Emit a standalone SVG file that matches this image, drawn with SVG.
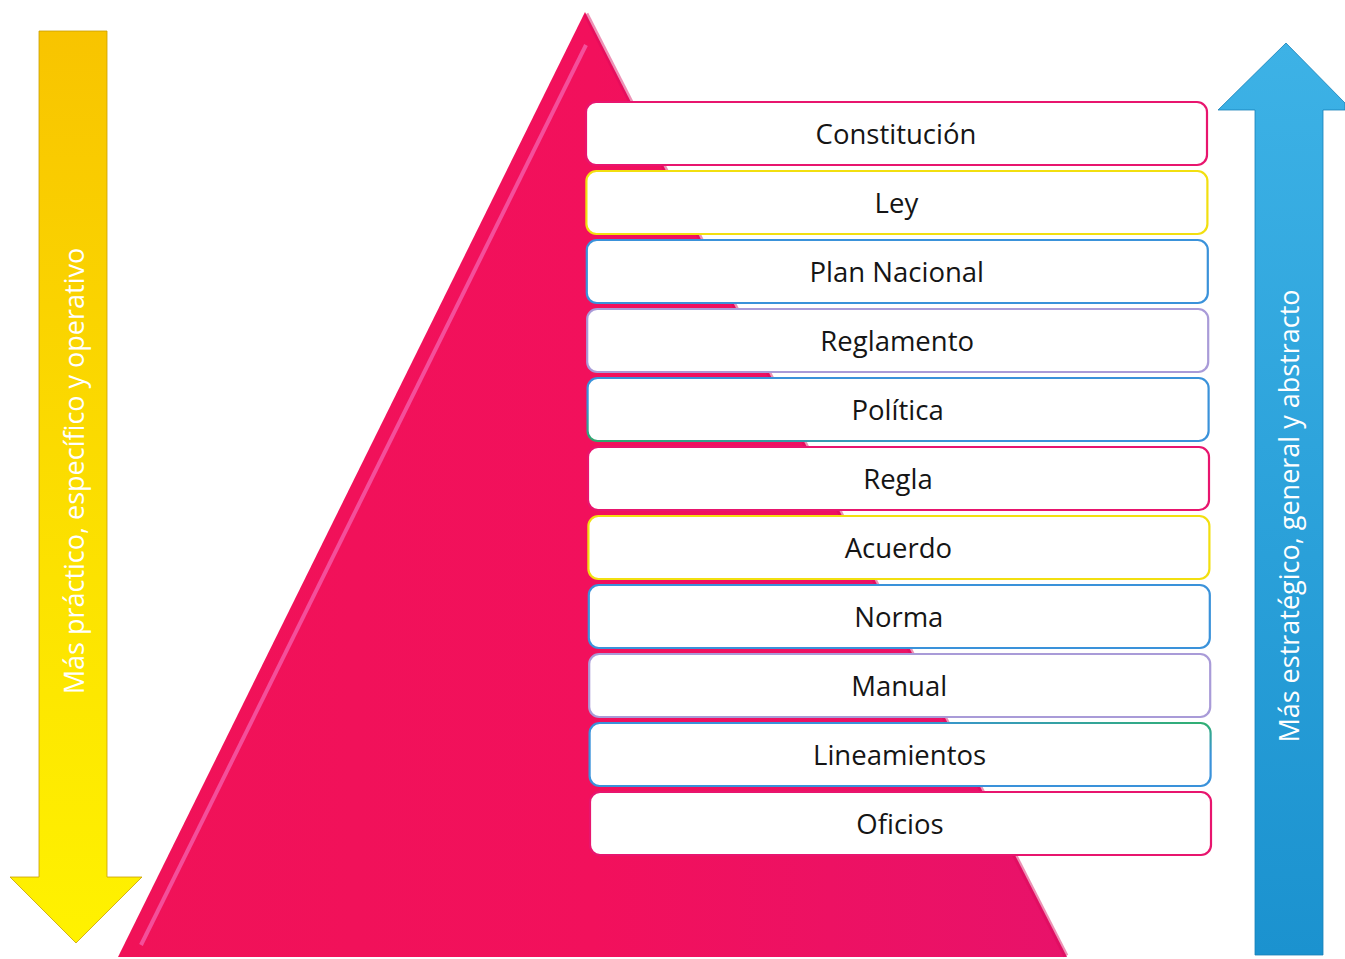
<svg xmlns="http://www.w3.org/2000/svg" width="1345" height="959" viewBox="0 0 1345 959">
<defs>
<style>
.box{fill:#ffffff;stroke-width:2.2}
.lbl{font-family:"Open Sans","Noto Sans",sans-serif;font-size:27.5px;fill:#151515;text-anchor:middle}
.side{font-family:"Open Sans","Noto Sans",sans-serif;font-size:27px;fill:#ffffff;text-anchor:middle}
</style>
<linearGradient id="gYel" x1="0" y1="0" x2="0" y2="1">
<stop offset="0" stop-color="#F8C400"/>
<stop offset="0.6" stop-color="#FCE200"/>
<stop offset="1" stop-color="#FFF200"/>
</linearGradient>
<linearGradient id="gBlue" x1="0" y1="0" x2="0" y2="1">
<stop offset="0" stop-color="#3DB2E6"/>
<stop offset="1" stop-color="#1B92CF"/>
</linearGradient>
<linearGradient id="gPink" x1="0" y1="0" x2="1" y2="0">
<stop offset="0" stop-color="#F01258"/>
<stop offset="0.5" stop-color="#F2105C"/>
<stop offset="1" stop-color="#E8126A"/>
</linearGradient>
<linearGradient id="gBG" x1="0" y1="1" x2="1" y2="0">
<stop offset="0" stop-color="#2FA86A"/>
<stop offset="0.3" stop-color="#3A92DA"/>
<stop offset="1" stop-color="#3A92DA"/>
</linearGradient>
<linearGradient id="gBG2" x1="0" y1="1" x2="1" y2="0">
<stop offset="0" stop-color="#3A92DA"/>
<stop offset="0.75" stop-color="#3A92DA"/>
<stop offset="1" stop-color="#30B070"/>
</linearGradient>
</defs>

<g id="arrow-left">
<polygon points="39,31 107,31 107,877 142,877 76,943 10,877 39,877" fill="url(#gYel)" stroke="#C9A000" stroke-width="0.8"/>
<text class="side" transform="translate(84,471) rotate(-90)">Más práctico, específico y operativo</text>
</g>

<g id="arrow-right">
<polygon points="1286,43 1345,103 1345,110 1323,110 1323,955 1255,955 1255,110 1218,110" fill="url(#gBlue)" stroke="#1780B8" stroke-width="0.8"/>
<text class="side" transform="translate(1299,516) rotate(-90)">Más estratégico, general y abstracto</text>
</g>

<g id="pyramid">
<polygon points="585,12 1067,957 118,957" fill="url(#gPink)"/>
<polyline points="586,45 141,945" fill="none" stroke="#F464B0" stroke-width="4" opacity="0.75"/>
<polyline points="586,14 1066,956" fill="none" stroke="#D80C5A" stroke-width="5" opacity="0.45"/>
</g>

<g id="n1"><rect class="box" x="586" y="102" width="621" height="63" rx="10" stroke="#E8156E"/><text class="lbl" x="896" y="143.5">Constitución</text></g>
<g id="n2"><rect class="box" x="586.4" y="171" width="621" height="63" rx="10" stroke="#F2DF10"/><text class="lbl" x="896.4" y="212.5">Ley</text></g>
<g id="n3"><rect class="box" x="586.8" y="240" width="621" height="63" rx="10" stroke="#3A92DA"/><text class="lbl" x="896.8" y="281.5">Plan Nacional</text></g>
<g id="n4"><rect class="box" x="587.2" y="309" width="621" height="63" rx="10" stroke="#A99BD8"/><text class="lbl" x="897.2" y="350.5">Reglamento</text></g>
<g id="n5"><rect class="box" x="587.6" y="378" width="621" height="63" rx="10" stroke="url(#gBG)"/><text class="lbl" x="897.6" y="419.5">Política</text></g>
<g id="n6"><rect class="box" x="588" y="447" width="621" height="63" rx="10" stroke="#E8156E"/><text class="lbl" x="898" y="488.5">Regla</text></g>
<g id="n7"><rect class="box" x="588.4" y="516" width="621" height="63" rx="10" stroke="#F2DF10"/><text class="lbl" x="898.4" y="557.5">Acuerdo</text></g>
<g id="n8"><rect class="box" x="588.8" y="585" width="621" height="63" rx="10" stroke="#3A92DA"/><text class="lbl" x="898.8" y="626.5">Norma</text></g>
<g id="n9"><rect class="box" x="589.2" y="654" width="621" height="63" rx="10" stroke="#A99BD8"/><text class="lbl" x="899.2" y="695.5">Manual</text></g>
<g id="n10"><rect class="box" x="589.6" y="723" width="621" height="63" rx="10" stroke="url(#gBG2)"/><text class="lbl" x="899.6" y="764.5">Lineamientos</text></g>
<g id="n11"><rect class="box" x="590" y="792" width="621" height="63" rx="10" stroke="#E8156E"/><text class="lbl" x="900" y="833.5">Oficios</text></g>

<g id="connectors"></g>
</svg>
